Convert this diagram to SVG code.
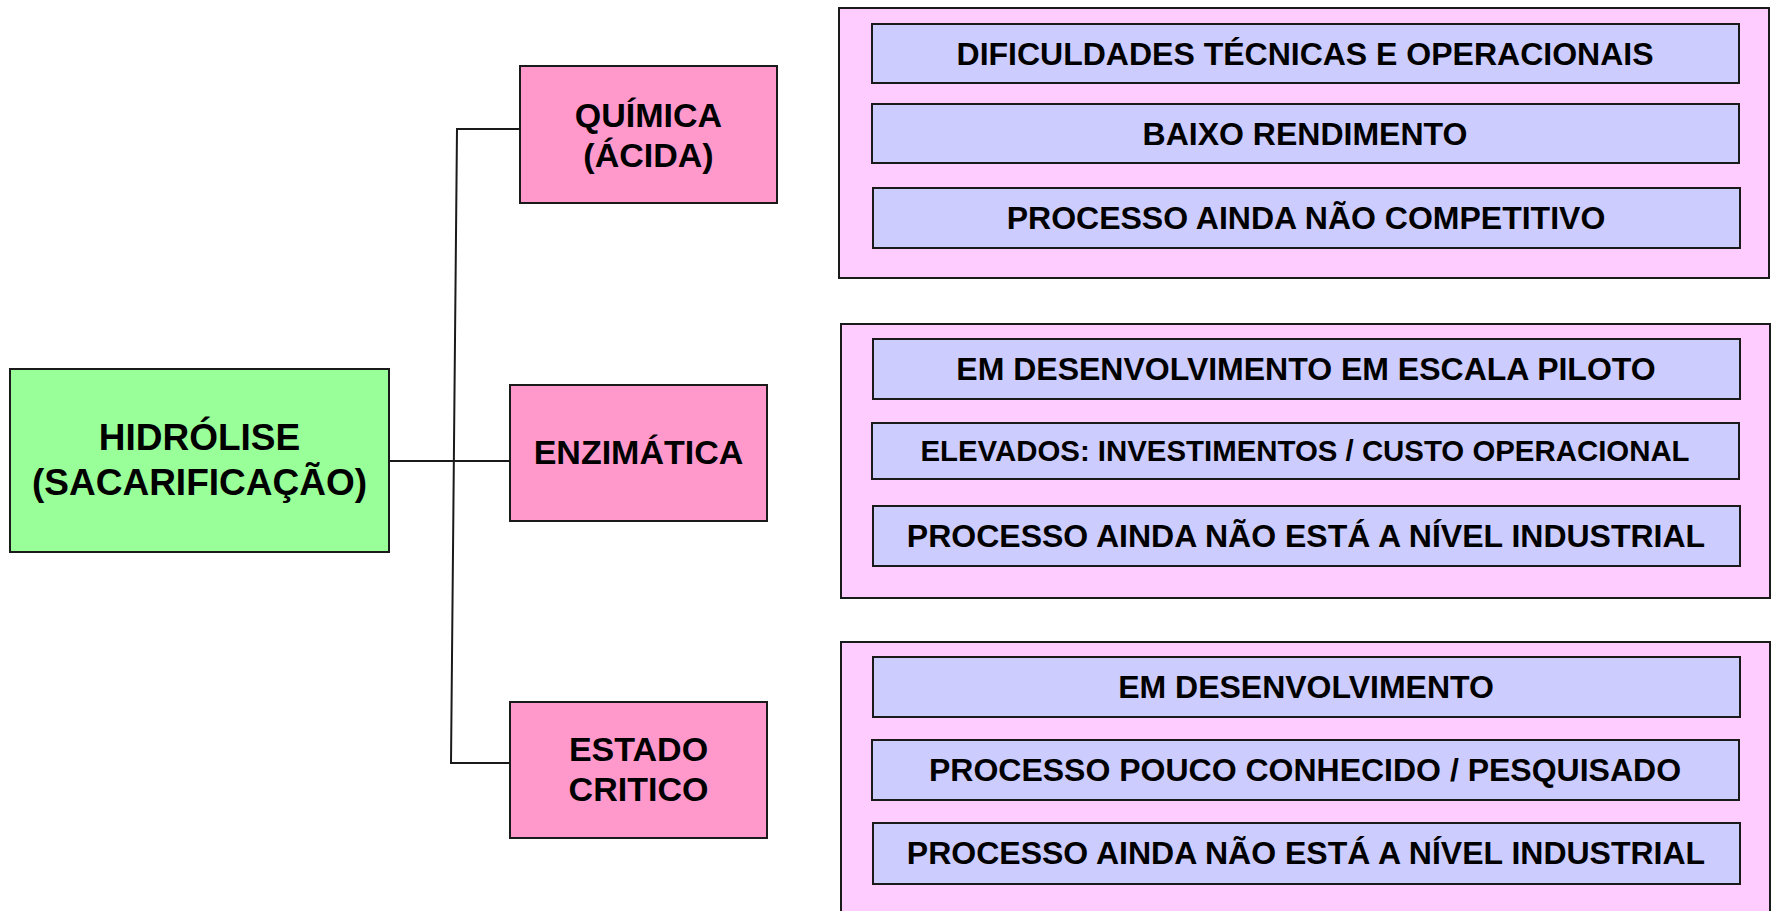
<svg xmlns="http://www.w3.org/2000/svg" width="1776" height="911" viewBox="0 0 1776 911">
<style>
text{font-family:"Liberation Sans",Arial,sans-serif;font-weight:bold;fill:#000;text-anchor:middle}
.root{fill:#99FF99;stroke:#1a1a1a;stroke-width:2}
.cat{fill:#FF99CC;stroke:#1a1a1a;stroke-width:2}
.panel{fill:#FFCCFF;stroke:#1a1a1a;stroke-width:2}
.item{fill:#CCCCFF;stroke:#1a1a1a;stroke-width:2}
.big{font-size:37px}
.mid{font-size:34px}
.sm{font-size:32px}
.xs{font-size:29.4px}
.conn{fill:none;stroke:#1a1a1a;stroke-width:2}
</style>
<rect width="1776" height="911" fill="#fff"/>
<g id="connectors">
<line class="conn" x1="389" y1="461" x2="513" y2="461"/>
<polyline class="conn" points="521,129 457,129 451,763 514,763"/>
</g>
<g id="hidrolise">
<rect class="root" x="10" y="369" width="379" height="183"/>
<text class="big" x="199.5" y="450">HIDRÓLISE</text>
<text class="big" x="199.5" y="495">(SACARIFICAÇÃO)</text>
</g>
<g id="quimica">
<rect class="cat" x="520" y="66" width="257" height="137"/>
<text class="mid" x="648.5" y="127">QUÍMICA</text>
<text class="mid" x="648.5" y="167">(ÁCIDA)</text>
</g>
<g id="enzimatica">
<rect class="cat" x="510" y="385" width="257" height="136"/>
<text class="mid" x="638.5" y="464">ENZIMÁTICA</text>
</g>
<g id="estado-critico">
<rect class="cat" x="510" y="702" width="257" height="136"/>
<text class="mid" x="638.5" y="761">ESTADO</text>
<text class="mid" x="638.5" y="801">CRITICO</text>
</g>
<g id="panel-quimica">
<rect class="panel" x="839" y="8" width="930" height="270"/>
<rect class="item" x="872" y="24" width="867" height="59"/>
<text class="sm" x="1305" y="65">DIFICULDADES TÉCNICAS E OPERACIONAIS</text>
<rect class="item" x="872" y="104" width="867" height="59"/>
<text class="sm" x="1305" y="145">BAIXO RENDIMENTO</text>
<rect class="item" x="873" y="188" width="867" height="60"/>
<text class="sm" x="1306" y="229">PROCESSO AINDA NÃO COMPETITIVO</text>
</g>
<g id="panel-enzimatica">
<rect class="panel" x="841" y="324" width="929" height="274"/>
<rect class="item" x="873" y="339" width="867" height="60"/>
<text class="sm" x="1306" y="380">EM DESENVOLVIMENTO EM ESCALA PILOTO</text>
<rect class="item" x="872" y="423" width="867" height="56"/>
<text class="xs" x="1305" y="461">ELEVADOS: INVESTIMENTOS / CUSTO OPERACIONAL</text>
<rect class="item" x="873" y="506" width="867" height="60"/>
<text class="sm" x="1306" y="547">PROCESSO AINDA NÃO ESTÁ A NÍVEL INDUSTRIAL</text>
</g>
<g id="panel-estado">
<rect class="panel" x="841" y="642" width="929" height="280"/>
<rect class="item" x="873" y="657" width="867" height="60"/>
<text class="sm" x="1306" y="698">EM DESENVOLVIMENTO</text>
<rect class="item" x="872" y="740" width="867" height="60"/>
<text class="sm" x="1305" y="781">PROCESSO POUCO CONHECIDO / PESQUISADO</text>
<rect class="item" x="873" y="823" width="867" height="61"/>
<text class="sm" x="1306" y="864">PROCESSO AINDA NÃO ESTÁ A NÍVEL INDUSTRIAL</text>
</g>
</svg>
